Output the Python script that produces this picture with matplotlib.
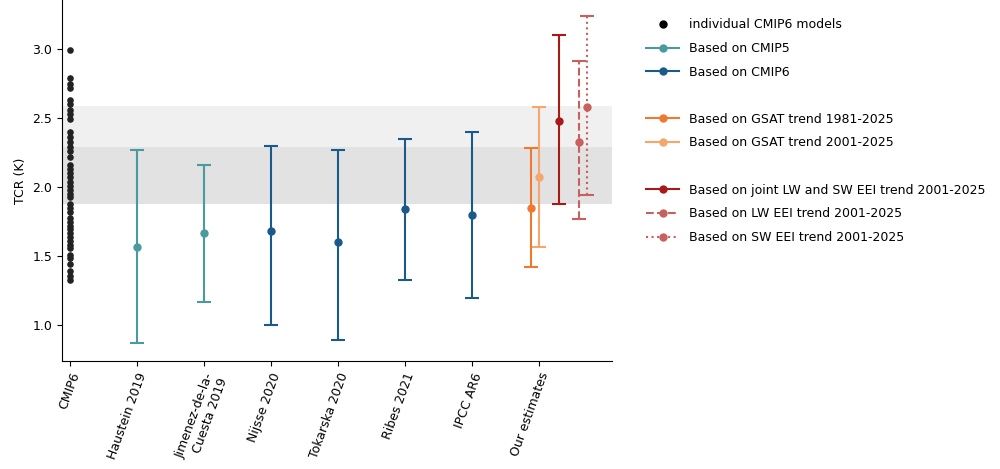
import matplotlib
matplotlib.use('Agg')
import matplotlib.pyplot as plt
from matplotlib.lines import Line2D

cmip6 = [2.99, 2.79, 2.75, 2.72, 2.63, 2.60, 2.56, 2.53, 2.49, 2.40, 2.36, 2.33, 2.29,
         2.26, 2.22, 2.16, 2.13, 2.10, 2.07, 2.04, 2.01, 1.98, 1.95, 1.93, 1.88, 1.85,
         1.82, 1.78, 1.75, 1.72, 1.70, 1.67, 1.64, 1.61, 1.58, 1.56, 1.51, 1.49, 1.44,
         1.39, 1.36, 1.33]

studies = ['Haustein 2019', 'Jimenez-de-la-\nCuesta 2019', 'Nijsse 2020', 'Tokarska 2020',
           'Ribes 2021', 'IPCC AR6']
study_mid = [1.57, 1.67, 1.68, 1.60, 1.84, 1.80]
study_lo = [0.87, 1.17, 1.00, 0.89, 1.33, 1.20]
study_hi = [2.27, 2.16, 2.30, 2.27, 2.35, 2.40]
study_col = ['#4a9a9e', '#4a9a9e', '#1a5a8a', '#1a5a8a', '#1a5a8a', '#1a5a8a']

ours = ['GSAT 1981', 'GSAT 2001', 'joint', 'LW', 'SW']
ours_off = [-0.12, 0.0, 0.3, 0.6, 0.72]
ours_mid = [1.85, 2.07, 2.48, 2.33, 2.58]
ours_lo = [1.42, 1.57, 1.88, 1.77, 1.94]
ours_hi = [2.28, 2.58, 3.10, 2.91, 3.24]
ours_col = ['#f07830', '#f5a66a', '#a81a1a', '#c86060', '#c86060']
ours_ls = ['-', '-', '-', '--', ':']

xlabels = ['CMIP6'] + studies + ['Our estimates']

fig = plt.figure(figsize=(10, 4.69), dpi=100)
ax = fig.add_axes([0.062, 0.23, 0.55, 0.77])

ax.axhspan(1.88, 2.59, color='#f0f0f0', lw=0, zorder=0)
ax.axhspan(1.88, 2.29, color='#e2e2e2', lw=0, zorder=0)

ax.scatter([0] * len(cmip6), cmip6, s=14, color='#222222', zorder=3)

for i in range(len(studies)):
    m = study_mid[i]
    ax.errorbar(i + 1, m, yerr=[[m - study_lo[i]], [study_hi[i] - m]], fmt='o',
                color=study_col[i], ms=5, capsize=5, capthick=1.5, lw=1.5, zorder=3)

for i in range(len(ours)):
    m = ours_mid[i]
    eb = ax.errorbar(7 + ours_off[i], m, yerr=[[m - ours_lo[i]], [ours_hi[i] - m]], fmt='o',
                     color=ours_col[i], ms=5, capsize=5, capthick=1.5, lw=1.5, zorder=3)
    eb[2][0].set_linestyle(ours_ls[i])

ax.set_xlim(-0.12, 8.09)
ax.set_ylim(0.74, 3.355)
ax.set_xticks(range(8))
ax.set_xticklabels(xlabels, rotation=70, ha='right', rotation_mode='anchor', fontsize=9)
ax.set_yticks([1.0, 1.5, 2.0, 2.5, 3.0])
ax.tick_params(axis='y', labelsize=9)
ax.set_ylabel('TCR (K)', fontsize=9)
ax.spines['top'].set_visible(False)
ax.spines['right'].set_visible(False)

blank = Line2D([], [], color='none')
handles = [
    Line2D([], [], color='k', marker='o', ls='none', ms=5),
    Line2D([], [], color='#4a9a9e', marker='o', ms=5),
    Line2D([], [], color='#1a5a8a', marker='o', ms=5),
    blank,
    Line2D([], [], color='#f07830', marker='o', ms=5),
    Line2D([], [], color='#f5a66a', marker='o', ms=5),
    blank,
    Line2D([], [], color='#a81a1a', marker='o', ms=5),
    Line2D([], [], color='#c86060', marker='o', ms=5, ls='--'),
    Line2D([], [], color='#c86060', marker='o', ms=5, ls=':'),
]
labels = ['individual CMIP6 models', 'Based on CMIP5', 'Based on CMIP6', '',
          'Based on GSAT trend 1981-2025', 'Based on GSAT trend 2001-2025', '',
          'Based on joint LW and SW EEI trend 2001-2025', 'Based on LW EEI trend 2001-2025',
          'Based on SW EEI trend 2001-2025']
fig.legend(handles, labels, loc='upper left', bbox_to_anchor=(0.635, 0.985),
           frameon=False, fontsize=9, handlelength=2.6, labelspacing=0.85)

fig.savefig('out.png', dpi=100)
